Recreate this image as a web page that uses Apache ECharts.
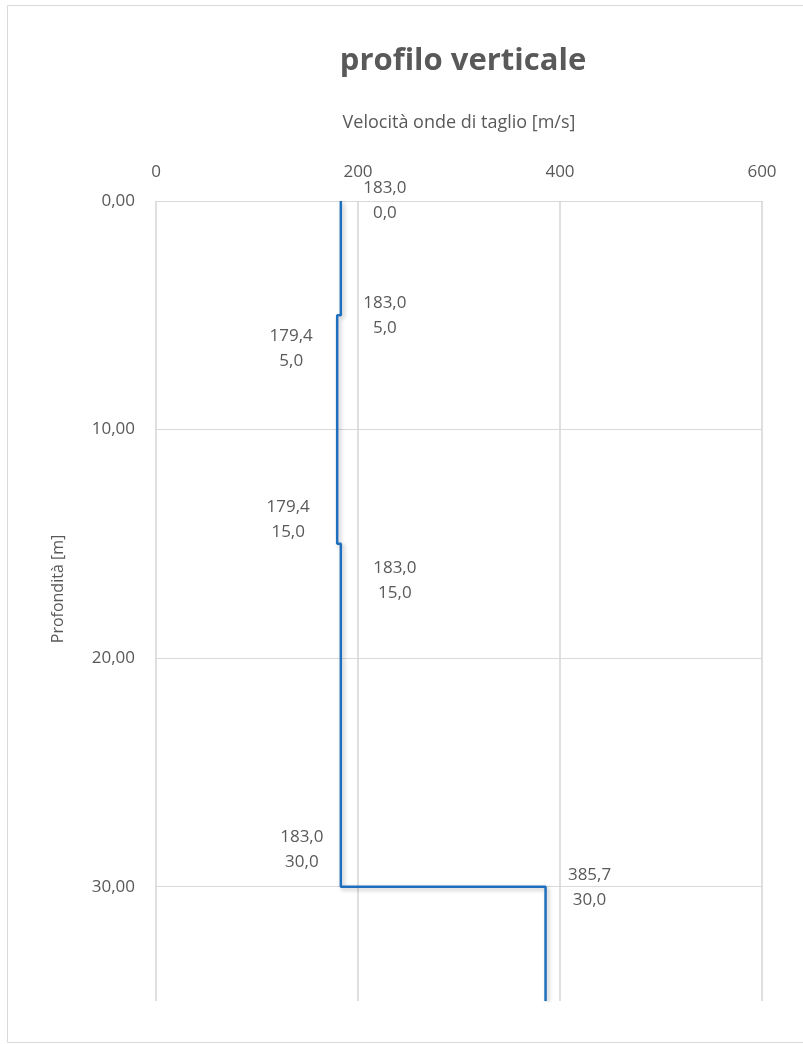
<!DOCTYPE html>
<html>
<head>
<meta charset="utf-8">
<script src="https://cdn.jsdelivr.net/npm/echarts@6/dist/echarts.min.js"></script>
<style>
html,body{margin:0;padding:0;background:#fff;}
#chart{width:803px;height:1044px;}
</style>
</head>
<body>
<div id="chart"></div>
<script>
// Data
const velocities = [183.0, 183.0, 179.4, 179.4, 183.0, 183.0, 385.7, 385.7]; // m/s
const depths     = [0.0,   5.0,   5.0,   15.0,  15.0,  30.0,  30.0,  35.0];  // m
const showLabel  = [true,  true,  true,  true,  true,  true,  true,  false];
const xTicks = [0, 200, 400, 600];
const yTicks = [0, 10, 20, 30];

const titleText = 'profilo verticale';
const xName = 'Velocità onde di taglio [m/s]';
const yName = 'Profondità [m]';

// label layout (offset from point, px)
const labelOffsets = [[44, 0], [44, 0], [-46, 33], [-49, -24], [54, 37], [-39, -37], [44, 1], [0, 0]];

const fmt1 = v => v.toFixed(1).replace('.', ',');
const fmt2 = v => v.toFixed(2).replace('.', ',');

const FONT = '"Open Sans", sans-serif';
const TXT = '#595959';

const seriesData = velocities.map((v, i) => ({
  value: [v, depths[i]],
  label: {
    show: showLabel[i],
    position: 'inside',
    offset: labelOffsets[i],
    formatter: fmt1(v) + '\n' + fmt1(depths[i]),
    color: TXT,
    fontFamily: FONT,
    fontSize: 17,
    lineHeight: 25,
    align: 'center',
    verticalAlign: 'middle'
  }
}));

const chart = echarts.init(document.getElementById('chart'), null, {renderer: 'canvas'});
chart.setOption({
  animation: false,
  backgroundColor: '#ffffff',
  title: {
    text: titleText,
    left: 458,
    top: 41,
    textAlign: 'center',
    textStyle: {fontFamily: FONT, fontSize: 31, fontWeight: 'bold', color: TXT}
  },
  graphic: [{
    type: 'rect',
    shape: {x: 7.5, y: 5.5, width: 810, height: 1037},
    style: {fill: 'none', stroke: '#d9d9d9', lineWidth: 1},
    silent: true
  }],
  grid: {left: 156, right: 41, top: 201, bottom: 43, containLabel: false},
  xAxis: {
    type: 'value',
    position: 'top',
    min: xTicks[0],
    max: xTicks[xTicks.length - 1],
    interval: xTicks[1] - xTicks[0],
    name: xName,
    nameLocation: 'middle',
    nameGap: 69,
    nameTextStyle: {fontFamily: FONT, fontSize: 18, color: TXT},
    axisLine: {show: false},
    axisTick: {show: false},
    axisLabel: {margin: 20, fontFamily: FONT, fontSize: 17, color: TXT, formatter: v => String(v)},
    splitLine: {show: true, lineStyle: {color: '#d4d4d4', width: 1.5}}
  },
  yAxis: {
    type: 'value',
    inverse: true,
    min: yTicks[0],
    max: 35,
    interval: yTicks[1] - yTicks[0],
    name: yName,
    nameLocation: 'middle',
    nameGap: 90,
    nameRotate: 90,
    nameTextStyle: {fontFamily: FONT, fontSize: 16, color: TXT, padding: [0, 0, 0, 24]},
    axisLine: {show: false},
    axisTick: {show: false},
    axisLabel: {
      margin: 21, fontFamily: FONT, fontSize: 17, color: TXT,
      showMaxLabel: false,
      formatter: v => (yTicks.indexOf(v) >= 0 ? fmt2(v) : '')
    },
    splitLine: {show: true, showMaxLine: false, lineStyle: {color: '#d9d9d9', width: 1}}
  },
  series: [{
    type: 'line',
    data: seriesData,
    symbol: 'circle',
    symbolSize: 1,
    showSymbol: true,
    itemStyle: {color: 'rgba(0,0,0,0)', borderWidth: 0},
    lineStyle: {
      color: '#1f6fbf', width: 2.5,
      shadowColor: 'rgba(0,0,0,0.25)', shadowBlur: 4, shadowOffsetX: 2, shadowOffsetY: 2
    },
    emphasis: {disabled: true},
    clip: true
  }]
});
</script>
</body>
</html>
